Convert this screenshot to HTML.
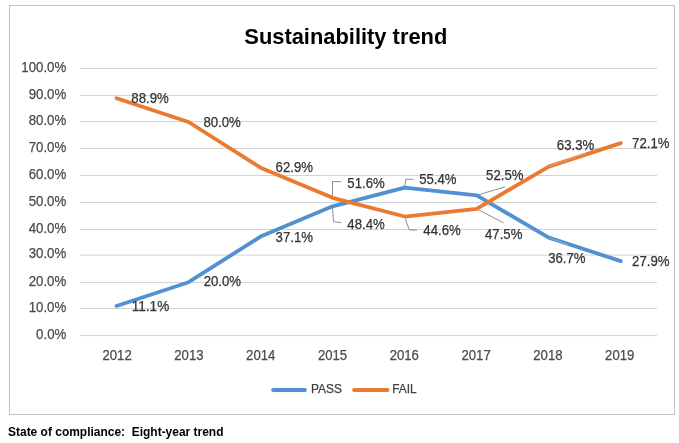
<!DOCTYPE html>
<html><head><meta charset="utf-8"><title>Sustainability trend</title>
<style>
html,body{margin:0;padding:0;background:#fff;}
body{width:679px;height:443px;overflow:hidden;font-family:"Liberation Sans",sans-serif;}
svg{display:block;}
text{font-family:"Liberation Sans",sans-serif;}
svg{will-change:transform;opacity:0.999;}
.ax{font-size:14.1px;fill:#4a4a4a;stroke:#4a4a4a;stroke-width:0.25;}
.dl{font-size:14.2px;fill:#333333;stroke:#333333;stroke-width:0.25;}
.lg{font-size:13.3px;fill:#404040;stroke:#404040;stroke-width:0.25;}
.ld{stroke:#808080;stroke-width:0.9;fill:none;}
</style></head><body>
<svg width="679" height="443" viewBox="0 0 679 443">
<rect x="0" y="0" width="679" height="443" fill="#ffffff"/>
<rect x="9.5" y="5.5" width="665" height="409" fill="#ffffff" stroke="#c2c2c2" stroke-width="1"/>

<text x="244.3" y="43.9" font-size="22.3" font-weight="bold" fill="#000" textLength="203" lengthAdjust="spacingAndGlyphs">Sustainability trend</text>
<line x1="80" y1="68.50" x2="657" y2="68.50" stroke="#d2d2d2" stroke-width="1"/>
<line x1="80" y1="95.50" x2="657" y2="95.50" stroke="#d2d2d2" stroke-width="1"/>
<line x1="80" y1="121.50" x2="657" y2="121.50" stroke="#d2d2d2" stroke-width="1"/>
<line x1="80" y1="148.50" x2="657" y2="148.50" stroke="#d2d2d2" stroke-width="1"/>
<line x1="80" y1="175.50" x2="657" y2="175.50" stroke="#d2d2d2" stroke-width="1"/>
<line x1="80" y1="202.50" x2="657" y2="202.50" stroke="#d2d2d2" stroke-width="1"/>
<line x1="80" y1="229.50" x2="657" y2="229.50" stroke="#d2d2d2" stroke-width="1"/>
<line x1="80" y1="255.10" x2="657" y2="255.10" stroke="#d2d2d2" stroke-width="1"/>
<line x1="80" y1="282.40" x2="657" y2="282.40" stroke="#d2d2d2" stroke-width="1"/>
<line x1="80" y1="308.60" x2="657" y2="308.60" stroke="#d2d2d2" stroke-width="1"/>
<line x1="80" y1="335.60" x2="657" y2="335.60" stroke="#d2d2d2" stroke-width="1"/>
<text class="ax" x="21.30" y="71.70" textLength="45.0" lengthAdjust="spacingAndGlyphs">100.0%</text>
<text class="ax" x="28.70" y="98.70" textLength="37.6" lengthAdjust="spacingAndGlyphs">90.0%</text>
<text class="ax" x="28.70" y="124.70" textLength="37.6" lengthAdjust="spacingAndGlyphs">80.0%</text>
<text class="ax" x="28.70" y="151.70" textLength="37.6" lengthAdjust="spacingAndGlyphs">70.0%</text>
<text class="ax" x="28.70" y="178.70" textLength="37.6" lengthAdjust="spacingAndGlyphs">60.0%</text>
<text class="ax" x="28.70" y="205.70" textLength="37.6" lengthAdjust="spacingAndGlyphs">50.0%</text>
<text class="ax" x="28.70" y="232.70" textLength="37.6" lengthAdjust="spacingAndGlyphs">40.0%</text>
<text class="ax" x="28.70" y="258.30" textLength="37.6" lengthAdjust="spacingAndGlyphs">30.0%</text>
<text class="ax" x="28.70" y="285.60" textLength="37.6" lengthAdjust="spacingAndGlyphs">20.0%</text>
<text class="ax" x="28.70" y="311.80" textLength="37.6" lengthAdjust="spacingAndGlyphs">10.0%</text>
<text class="ax" x="36.10" y="338.80" textLength="30.2" lengthAdjust="spacingAndGlyphs">0.0%</text>
<text class="ax" x="102.50" y="359.7" style="font-size:13.8px" textLength="29.2" lengthAdjust="spacingAndGlyphs">2012</text>
<text class="ax" x="174.30" y="359.7" style="font-size:13.8px" textLength="29.2" lengthAdjust="spacingAndGlyphs">2013</text>
<text class="ax" x="246.10" y="359.7" style="font-size:13.8px" textLength="29.2" lengthAdjust="spacingAndGlyphs">2014</text>
<text class="ax" x="317.90" y="359.7" style="font-size:13.8px" textLength="29.2" lengthAdjust="spacingAndGlyphs">2015</text>
<text class="ax" x="389.70" y="359.7" style="font-size:13.8px" textLength="29.2" lengthAdjust="spacingAndGlyphs">2016</text>
<text class="ax" x="461.50" y="359.7" style="font-size:13.8px" textLength="29.2" lengthAdjust="spacingAndGlyphs">2017</text>
<text class="ax" x="533.30" y="359.7" style="font-size:13.8px" textLength="29.2" lengthAdjust="spacingAndGlyphs">2018</text>
<text class="ax" x="605.10" y="359.7" style="font-size:13.8px" textLength="29.2" lengthAdjust="spacingAndGlyphs">2019</text>
<polyline class="ld" points="332.5,196 332.5,181.6 341.2,181.6"/>
<polyline class="ld" points="332.5,206.4 333.5,221.6 341.2,222.8"/>
<polyline class="ld" points="404.6,186.6 405.8,179.3 413.4,179.3"/>
<polyline class="ld" points="405.3,218.7 409.3,230 416.9,230"/>
<polyline class="ld" points="477.4,195.1 505.1,186.9"/>
<polyline class="ld" points="478.6,209.8 503.5,222.9"/>
<polyline points="116.52,305.96 188.56,282.20 260.59,236.54 332.63,206.37 404.67,187.68 476.71,195.43 548.74,237.61 620.78,261.11" fill="none" stroke="#5291d0" stroke-width="3.8" stroke-linejoin="round" stroke-linecap="round"/>
<polyline points="116.52,98.24 188.56,122.00 260.59,167.66 332.63,197.83 404.67,216.52 476.71,208.78 548.74,166.59 620.78,143.09" fill="none" stroke="#eb792e" stroke-width="3.8" stroke-linejoin="round" stroke-linecap="round"/>
<line x1="548.8" y1="166.6" x2="586" y2="153.2" stroke="#c9b9a9" stroke-width="0.9" opacity="0.8"/>
<line x1="548.8" y1="237.7" x2="568" y2="245" stroke="#a9b9c9" stroke-width="0.9" opacity="0.8"/>
<text class="dl" x="131.3" y="102.5" textLength="37.4" lengthAdjust="spacingAndGlyphs">88.9%</text>
<text class="dl" x="203.4" y="126.8" textLength="37.4" lengthAdjust="spacingAndGlyphs">80.0%</text>
<text class="dl" x="275.6" y="172.0" textLength="37.4" lengthAdjust="spacingAndGlyphs">62.9%</text>
<text class="dl" x="347.3" y="187.7" textLength="37.4" lengthAdjust="spacingAndGlyphs">51.6%</text>
<text class="dl" x="347.3" y="228.9" textLength="37.4" lengthAdjust="spacingAndGlyphs">48.4%</text>
<text class="dl" x="275.6" y="241.7" textLength="37.4" lengthAdjust="spacingAndGlyphs">37.1%</text>
<text class="dl" x="419.2" y="183.8" textLength="37.4" lengthAdjust="spacingAndGlyphs">55.4%</text>
<text class="dl" x="423.3" y="235.0" textLength="37.4" lengthAdjust="spacingAndGlyphs">44.6%</text>
<text class="dl" x="486.1" y="179.9" textLength="37.4" lengthAdjust="spacingAndGlyphs">52.5%</text>
<text class="dl" x="485.0" y="238.5" textLength="37.4" lengthAdjust="spacingAndGlyphs">47.5%</text>
<text class="dl" x="556.8" y="149.7" textLength="37.4" lengthAdjust="spacingAndGlyphs">63.3%</text>
<text class="dl" x="632.1" y="147.6" textLength="37.4" lengthAdjust="spacingAndGlyphs">72.1%</text>
<text class="dl" x="548.2" y="263.2" textLength="37.4" lengthAdjust="spacingAndGlyphs">36.7%</text>
<text class="dl" x="632.1" y="265.6" textLength="37.4" lengthAdjust="spacingAndGlyphs">27.9%</text>
<text class="dl" x="203.7" y="286.4" textLength="37.4" lengthAdjust="spacingAndGlyphs">20.0%</text>
<text class="dl" x="131.8" y="310.8" textLength="37.4" lengthAdjust="spacingAndGlyphs">11.1%</text>
<line x1="273.1" y1="389.9" x2="304.9" y2="389.9" stroke="#5291d0" stroke-width="4" stroke-linecap="round"/>
<text class="lg" x="310.9" y="392.5" textLength="31" lengthAdjust="spacingAndGlyphs">PASS</text>
<line x1="354.1" y1="389.9" x2="387.5" y2="389.9" stroke="#eb792e" stroke-width="4" stroke-linecap="round"/>
<text class="lg" x="392.2" y="392.5" textLength="24.5" lengthAdjust="spacingAndGlyphs">FAIL</text>
<text x="8" y="435.7" font-size="12" font-weight="bold" fill="#000" textLength="215.5" lengthAdjust="spacingAndGlyphs" xml:space="preserve">State of compliance:  Eight-year trend</text>
</svg></body></html>
